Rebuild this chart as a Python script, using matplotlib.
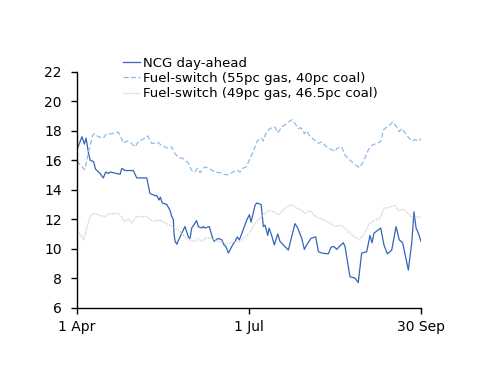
import matplotlib
matplotlib.use("Agg")
import matplotlib.pyplot as plt

# Days since 1 April and values
ncg_days = [0, 2.6, 3.9, 4.8, 6.2, 7.0, 8.8, 9.8, 12.2, 13.9, 15.2, 16.6, 17.5, 22.8, 23.7,
            25.4, 28.0, 29.8, 31.6, 36.9, 38.6, 41.3, 42.2, 43.4, 44.1, 45.1, 47.5, 49.2,
            50.1, 51.0, 51.3, 51.9, 52.8, 54.5, 57.1, 58.9, 59.8, 60.7, 63.3, 64.2, 66.0,
            66.8, 67.7, 70.0, 71.3, 72.5, 73.5, 74.8, 76.6, 77.8, 78.8, 80.1, 81.9, 83.6,
            84.8, 85.9, 88.0, 89.8, 91.2, 92.1, 94.2, 95.1, 97.4, 98.6, 99.5, 100.9, 101.6,
            103.0, 104.4, 106.2, 107.4, 109.2, 111.8, 115.3, 116.8, 118.9, 120.3, 121.5,
            123.8, 126.3, 127.7, 129.5, 133.0, 134.4, 136.0, 137.4, 139.2, 140.9, 141.8,
            144.4, 147.1, 148.8, 150.6, 153.3, 155.0, 156.1, 157.1, 160.7, 162.4, 164.2,
            166.5, 168.8, 170.5, 172.3, 175.3, 177.1, 178.3, 179.4, 180.6, 182.0]
ncg_vals = [16.7, 17.6, 17.1, 17.5, 16.4, 16.0, 15.9, 15.4, 15.1, 14.8, 15.2, 15.1, 15.2, 15.05,
            15.45, 15.3, 15.3, 15.3, 14.8, 14.8, 13.75, 13.6, 13.6, 13.3, 13.5, 13.1, 13.0,
            12.6, 12.2, 11.95, 11.05, 10.5, 10.3, 10.8, 11.5, 10.8, 10.7, 11.4, 11.9, 11.5,
            11.4, 11.5, 11.4, 11.5, 10.9, 10.5, 10.6, 10.7, 10.6, 10.25, 10.15, 9.7, 10.15,
            10.5, 10.8, 10.6, 11.3, 11.95, 12.3, 11.8, 12.95, 13.1, 13.0, 11.5, 11.6, 10.9,
            11.4, 10.9, 10.25, 11.0, 10.5, 10.25, 9.9, 11.7, 11.4, 10.7, 9.95, 10.25, 10.7,
            10.8, 9.8, 9.7, 9.65, 10.1, 10.15, 9.95, 10.2, 10.4, 10.15, 8.1, 8.0, 7.7, 9.7,
            9.8, 10.9, 10.4, 11.05, 11.4, 10.25, 9.65, 9.9, 11.5, 10.6, 10.4, 8.55, 10.4,
            12.5, 11.4, 11.05, 10.5]

fs55_days = [0, 1.6, 4.1, 6.2, 8.3, 9.1, 11.2, 13.9, 15.7, 18.3, 21.8, 22.8, 24.5, 26.3, 28.0,
             30.7, 32.4, 36.0, 37.4, 39.5, 41.3, 43.0, 44.8, 46.6, 48.3, 50.1, 51.9, 53.6,
             56.3, 58.9, 60.7, 62.4, 63.7, 65.1, 66.5, 67.7, 70.4, 73.0, 75.7, 79.2, 81.9,
             84.5, 86.2, 87.7, 89.4, 91.2, 92.4, 94.2, 95.6, 97.7, 98.6, 99.8, 102.1, 104.8,
             106.2, 108.3, 111.0, 113.6, 115.3, 117.1, 118.5, 120.3, 121.5, 123.3, 125.9,
             127.7, 129.5, 132.1, 134.8, 136.5, 137.4, 140.0, 141.8, 144.4, 147.1, 149.4,
             151.5, 154.1, 155.9, 158.6, 160.7, 162.1, 163.9, 165.6, 167.0, 169.2, 170.5,
             171.8, 174.4, 177.1, 178.8, 180.6, 182.0]
fs55_vals = [15.95, 15.7, 15.35, 16.6, 17.7, 17.8, 17.6, 17.5, 17.8, 17.8, 17.9, 17.7, 17.15,
             17.3, 17.25, 16.9, 17.25, 17.5, 17.65, 17.15, 17.15, 17.2, 17.0, 16.9, 16.8,
             16.9, 16.45, 16.2, 16.1, 15.8, 15.3, 15.2, 15.45, 15.15, 15.4, 15.55, 15.4,
             15.2, 15.15, 15.0, 15.15, 15.35, 15.2, 15.45, 15.55, 16.0, 16.35, 16.9, 17.35,
             17.5, 17.3, 17.8, 18.15, 18.25, 17.85, 18.25, 18.5, 18.75, 18.5, 18.15, 18.2,
             17.8, 18.0, 17.6, 17.35, 17.15, 17.25, 16.9, 16.7, 16.6, 16.8, 16.9, 16.35,
             16.0, 15.7, 15.5, 15.9, 16.7, 17.0, 17.15, 17.25, 18.05, 18.25, 18.4, 18.6,
             18.25, 17.95, 18.15, 17.7, 17.3, 17.4, 17.3, 17.45]

fs49_days = [0, 1.6, 3.5, 5.6, 7.0, 8.8, 11.2, 14.8, 16.6, 21.9, 23.3, 25.0, 27.1, 29.2, 31.6,
             34.2, 36.9, 38.6, 41.3, 43.9, 46.6, 49.2, 51.9, 54.5, 57.1, 59.8, 62.4, 64.2,
             65.9, 68.6, 71.3, 74.8, 77.4, 80.1, 83.6, 86.2, 88.0, 91.2, 94.2, 96.8, 99.5,
             101.2, 103.9, 106.5, 108.3, 110.9, 113.6, 116.2, 118.9, 120.6, 123.3, 125.9,
             128.6, 131.2, 133.9, 136.5, 139.2, 141.8, 144.4, 147.1, 149.4, 151.5, 154.7,
             157.7, 160.3, 162.4, 165.2, 168.3, 170.0, 172.7, 175.3, 177.6, 180.1, 182.0]
fs49_vals = [11.15, 11.0, 10.6, 11.6, 12.2, 12.4, 12.3, 12.15, 12.35, 12.4, 12.2, 11.85, 12.0,
             11.75, 12.2, 12.15, 12.2, 11.95, 11.85, 11.95, 11.75, 11.6, 11.4, 11.15, 10.8,
             10.6, 10.5, 10.7, 10.5, 10.75, 10.7, 10.5, 10.35, 10.35, 10.5, 10.5, 10.7, 11.0,
             11.75, 12.05, 12.4, 12.6, 12.5, 12.3, 12.5, 12.85, 13.0, 12.75, 12.6, 12.4, 12.6,
             12.2, 12.05, 11.9, 11.75, 11.5, 11.6, 11.4, 11.05, 10.75, 10.65, 10.9, 11.7,
             11.95, 12.05, 12.75, 12.8, 12.95, 12.6, 12.65, 12.4, 12.05, 12.15, 12.15]

series_labels = ["NCG day-ahead", "Fuel-switch (55pc gas, 40pc coal)",
                 "Fuel-switch (49pc gas, 46.5pc coal)"]
x_tick_pos = [0, 91, 182]
x_tick_labels = ["1 Apr", "1 Jul", "30 Sep"]
y_ticks = [6, 8, 10, 12, 14, 16, 18, 20, 22]

plt.rcParams['font.family'] = ['DejaVu Sans']

fig = plt.figure(figsize=(5.0, 3.86), dpi=100)
ax = fig.add_axes([0.154, 0.203, 0.688, 0.611])

l1, = ax.plot(ncg_days, ncg_vals, color='#3464b8', lw=0.9)
l2, = ax.plot(fs55_days, fs55_vals, color='#8fbbea', lw=0.9, dashes=(4, 2))
l3, = ax.plot(fs49_days, fs49_vals, color='#c8c8c8', lw=0.9, dashes=(1, 1))

ax.set_xlim(0, 182)
ax.set_ylim(6, 22)
ax.set_xticks(x_tick_pos)
ax.set_xticklabels(x_tick_labels)
ax.set_yticks(y_ticks)
for s in ['top', 'right']:
    ax.spines[s].set_visible(False)
for s in ['left', 'bottom']:
    ax.spines[s].set_color('black')
    ax.spines[s].set_linewidth(1.0)
ax.tick_params(axis='both', direction='out', length=4, width=1.0, labelsize=10, colors='black')
ax.tick_params(axis='y', pad=7)
ax.tick_params(axis='x', pad=5)

fig.legend([l1, l2, l3], series_labels, loc='upper left', bbox_to_anchor=(0.245, 0.853),
           frameon=False, fontsize=9.5, handlelength=1.35, handletextpad=0.2,
           labelspacing=0.18, borderaxespad=0, borderpad=0)

fig.savefig("out.png", dpi=100)
